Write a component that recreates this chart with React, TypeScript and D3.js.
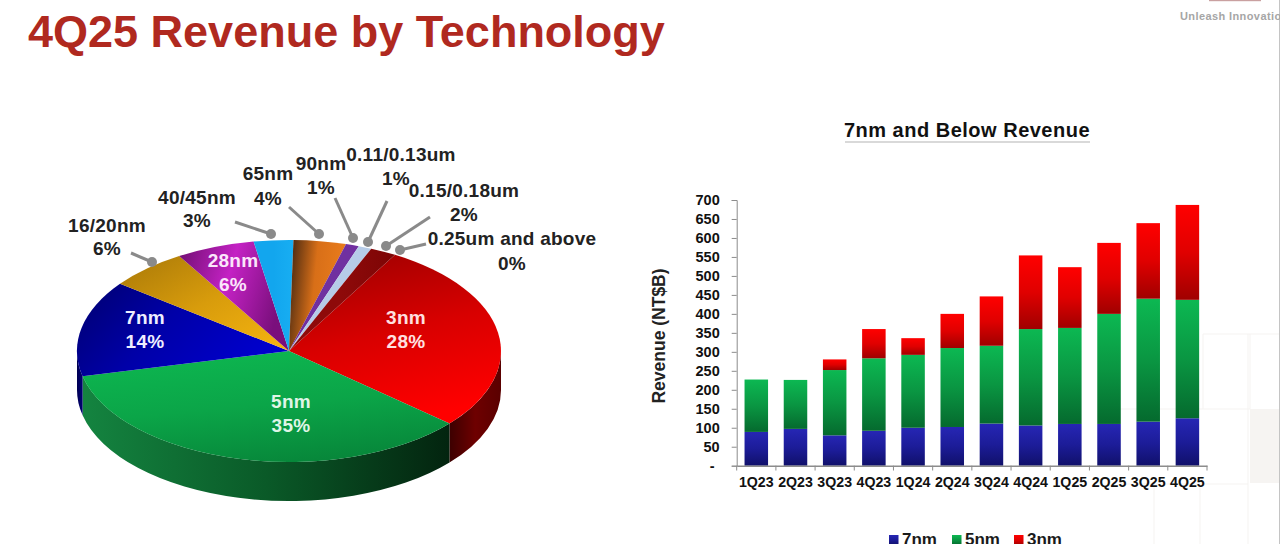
import React, { useEffect, useRef } from 'react';
import * as d3 from 'd3';

const techNames = ['3nm', '5nm', '7nm', '16/20nm', '28nm', '40/45nm', '65nm', '90nm', '0.11/0.13um', '0.15/0.18um', '0.25um and above'];
const techShares = [28, 35, 14, 6, 6, 3, 4, 1, 1, 2, 0];

const quarters = ['1Q23', '2Q23', '3Q23', '4Q23', '1Q24', '2Q24', '3Q24', '4Q24', '1Q25', '2Q25', '3Q25', '4Q25'];
const rev7nm = [89, 97, 80, 92, 100, 102, 111, 106, 110, 110, 116, 125];
const rev5nm = [138, 129, 172, 191, 192, 208, 205, 254, 253, 290, 324, 312];
const rev3nm = [0, 0, 28, 77, 44, 90, 130, 194, 160, 187, 199, 250];
const nodeKeys = ['7nm', '5nm', '3nm'];
const yTicks = d3.range(0, 701, 50);

const W = 1280;
const H = 544;

// slice paint, same order as techNames: direction + stops
const sliceFills: { dir: number[]; stops: string[] }[] = [
  { dir: [0.2, 0, 0.5, 1], stops: ['#a00000', '#d80000', '#ff0000'] },
  { dir: [0.3, 0, 0.6, 1], stops: ['#0db650', '#0ba548', '#07873a'] },
  { dir: [0, 0, 1, 0.4], stops: ['#00006e', '#0000a8', '#0000cc'] },
  { dir: [0, 0, 1, 1], stops: ['#a87808', '#d89c0c', '#f7b510'] },
  { dir: [0, 0, 1, 0.3], stops: ['#6e0e70', '#c422c4', '#7a0f7c'] },
  { dir: [0, 0, 1, 0], stops: ['#12a6ee', '#12a6ee', '#18aef2'] },
  { dir: [0, 0, 1, 0.2], stops: ['#3c2210', '#d86f18', '#ea7c1c'] },
  { dir: [0, 0, 1, 0], stops: ['#6f2ea0', '#7030a0', '#7030a0'] },
  { dir: [0, 0, 1, 0], stops: ['#b6cce8', '#b6cce8', '#b6cce8'] },
  { dir: [0, 0, 1, 0], stops: ['#8e0a0a', '#8e0a0a', '#7c0505'] },
  { dir: [0, 0, 1, 0], stops: ['#8e0a0a', '#8e0a0a', '#8e0a0a'] },
];

// wall paint for the slices that reach the front rim
const wallFills: Record<string, string[]> = {
  '3nm': ['#3c0000', '#6e0000', '#5a0000'],
  '5nm': ['#148440', '#0a5a28', '#03240f'],
  '7nm': ['#000050', '#000066', '#000070'],
};

// callouts: label centre, line from label to dot
const callouts = [
  { name: '16/20nm', pct: '6%', x: 107, y: 225, gap: 23, line: [131, 253, 152, 262] },
  { name: '40/45nm', pct: '3%', x: 197, y: 197, gap: 23, line: [235, 222, 271, 234] },
  { name: '65nm', pct: '4%', x: 268, y: 173, gap: 25, line: [289, 207, 319, 234] },
  { name: '90nm', pct: '1%', x: 321, y: 163, gap: 24, line: [335, 198, 353, 238] },
  { name: '0.11/0.13um', pct: '1%', x: 401, y: 154, gap: 24, pctX: 396, line: [387, 201, 368, 242] },
  { name: '0.15/0.18um', pct: '2%', x: 464, y: 190, gap: 24, line: [430, 217, 386, 246] },
  { name: '0.25um and above', pct: '0%', x: 512, y: 238, gap: 25, line: [426, 244, 400, 250] },
];
const insideLabels = [
  { name: '3nm', pct: '28%', x: 406, y: 317, color: '#ffe0e0' },
  { name: '5nm', pct: '35%', x: 291, y: 401, color: '#dff5e6' },
  { name: '7nm', pct: '14%', x: 145, y: 317, color: '#eeeeff' },
  { name: '28nm', pct: '6%', x: 233, y: 260, color: '#fbe6fb' },
];

const labelFont = '"Liberation Sans", Arial, sans-serif';

export default function App() {
  const svgRef = useRef<SVGSVGElement>(null);

  useEffect(() => {
    if (!svgRef.current) return;
    const svg = d3.select(svgRef.current);
    svg.selectAll('*').remove();
    svg.attr('font-family', labelFont).attr('font-weight', 700);

    const defs = svg.append('defs');
    const addGradient = (id: string, dir: number[], stops: string[]) => {
      const g = defs.append('linearGradient').attr('id', id)
        .attr('x1', dir[0]).attr('y1', dir[1]).attr('x2', dir[2]).attr('y2', dir[3]);
      stops.forEach((c, i) => {
        g.append('stop').attr('offset', i / (stops.length - 1)).attr('stop-color', c);
      });
    };

    // Background: faint leftovers of the slide template
    svg.append('rect').attr('width', W).attr('height', H).attr('fill', '#ffffff');
    svg.append('rect').attr('x', 1250).attr('y', 409).attr('width', 30).attr('height', 74).attr('fill', '#f6f4f2');
    [[1203, 334, 1280, 334], [1120, 409, 1250, 409], [1120, 484, 1248, 484], [1248, 334, 1248, 544],
      [1250, 334, 1250, 409], [1203, 334, 1203, 409], [1154, 484, 1154, 544], [1200, 484, 1200, 544]].forEach(l => {
      svg.append('line').attr('x1', l[0]).attr('y1', l[1]).attr('x2', l[2]).attr('y2', l[3])
        .attr('stroke', '#f5f3f1').attr('stroke-width', 1);
    });
    svg.append('line').attr('x1', 1279.5).attr('x2', 1279.5).attr('y1', 0).attr('y2', H)
      .attr('stroke', '#c4c4c4').attr('stroke-width', 1);

    // Header
    svg.append('text').attr('x', 28).attr('y', 46.5).attr('fill', '#b0291f')
      .attr('font-size', 45).text('4Q25 Revenue by Technology');
    svg.append('rect').attr('x', 1209).attr('y', 0).attr('width', 52).attr('height', 1.2).attr('fill', '#c9a0a0');
    svg.append('text').attr('x', 1180).attr('y', 20).attr('fill', '#a6a6a6')
      .attr('font-size', 11).attr('letter-spacing', 0.4).text('Unleash Innovation');

    // Pie
    const cx = 289;
    const cy = 351;
    const rx = 212;
    const ry = 111;
    const depth = 39;
    const rad = Math.PI / 180;
    const pieData = techNames.map((name, i) => ({ name, share: techShares[i] }));
    const arcs = d3.pie<{ name: string; share: number }>()
      .sort(null)
      .value(d => d.share)
      .startAngle(30 * rad)
      .endAngle(390 * rad)(pieData);

    const rim = (a: number, dy = 0) => [cx + rx * Math.sin(a), cy + dy - ry * Math.cos(a)];

    // Wall of the disc, only the front half shows
    arcs.forEach((a, i) => {
      const from = Math.max(a.startAngle, 90 * rad);
      const to = Math.min(a.endAngle, 270 * rad);
      if (to <= from) return;
      const id = `wall-${i}`;
      addGradient(id, [0, 0, 1, 0], wallFills[a.data.name]);
      const p0 = rim(from);
      const p1 = rim(to);
      const p2 = rim(to, depth);
      const p3 = rim(from, depth);
      svg.append('path')
        .attr('fill', `url(#${id})`)
        .attr('d', `M${p0}A${rx},${ry} 0 0 1 ${p1}L${p2}A${rx},${ry} 0 0 0 ${p3}Z`);
    });

    const arc = d3.arc<d3.PieArcDatum<{ name: string; share: number }>>().innerRadius(0).outerRadius(1);
    const face = svg.append('g').attr('transform', `translate(${cx},${cy}) scale(${rx},${ry})`);
    arcs.forEach((a, i) => {
      if (a.data.share === 0) return;
      const id = `slice-${i}`;
      addGradient(id, sliceFills[i].dir, sliceFills[i].stops);
      face.append('path').attr('d', arc(a)).attr('fill', `url(#${id})`);
    });

    // Callouts
    callouts.forEach(c => {
      svg.append('line')
        .attr('x1', c.line[0]).attr('y1', c.line[1]).attr('x2', c.line[2]).attr('y2', c.line[3])
        .attr('stroke', '#8a8a8a').attr('stroke-width', 3);
      svg.append('circle').attr('cx', c.line[2]).attr('cy', c.line[3]).attr('r', 5).attr('fill', '#8a8a8a');
      [c.name, c.pct].forEach((t, i) => {
        svg.append('text').attr('x', i === 1 ? c.pctX ?? c.x : c.x).attr('y', c.y + i * c.gap)
          .attr('dy', '0.35em').attr('text-anchor', 'middle').attr('letter-spacing', 0.25)
          .attr('fill', '#222222').attr('font-size', 19).text(t);
      });
    });
    insideLabels.forEach(l => {
      [l.name, l.pct].forEach((t, i) => {
        svg.append('text').attr('x', l.x).attr('y', l.y + i * 24).attr('dy', '0.35em').attr('text-anchor', 'middle')
          .attr('letter-spacing', 0.25).attr('fill', l.color).attr('font-size', 19).text(t);
      });
    });

    // Bar chart
    const x = d3.scaleBand<string>().domain(quarters).range([736.7, 1207]).paddingInner(0.4).paddingOuter(0.2);
    const y = d3.scaleLinear().domain([0, 700]).range([465.7, 200]);

    const rows = quarters.map((q, i) => ({ q, '7nm': rev7nm[i], '5nm': rev5nm[i], '3nm': rev3nm[i] }));
    const stacked = d3.stack<any>().keys(nodeKeys)(rows);

    addGradient('bar-7nm', [0, 0, 0, 1], ['#2626b4', '#1c1c98', '#10106a']);
    addGradient('bar-5nm', [0, 0, 0, 1], ['#0cb852', '#0a9642', '#056a2e']);
    addGradient('bar-3nm', [0, 0, 0, 1], ['#ff0000', '#e00000', '#a00000']);

    stacked.forEach(layer => {
      svg.append('g').selectAll('rect').data(layer).join('rect')
        .attr('x', d => x((d.data as any).q)!)
        .attr('y', d => y(d[1]))
        .attr('width', x.bandwidth())
        .attr('height', d => y(d[0]) - y(d[1]))
        .attr('fill', `url(#bar-${layer.key})`);
    });

    const yAxis = svg.append('g').attr('transform', 'translate(736.7,0)')
      .call(d3.axisLeft(y).tickValues(yTicks).tickSize(5).tickPadding(12).tickFormat(d => (d === 0 ? '-' : String(d))));
    yAxis.selectAll('path,line').attr('stroke', '#8c8c8c').attr('stroke-width', 1);
    yAxis.selectAll('text').attr('fill', '#111111').attr('font-size', 14.5).attr('font-family', labelFont);
    yAxis.selectAll<SVGTextElement, number>('text').filter(d => d === 0).attr('x', -22);

    const xAxis = svg.append('g').attr('transform', 'translate(0,465.7)')
      .call(d3.axisBottom(x).tickSize(0).tickPadding(11));
    xAxis.selectAll('.tick line').remove();
    xAxis.select('.domain').attr('stroke', '#8c8c8c').attr('stroke-width', 1.4);
    xAxis.selectAll('text').attr('fill', '#111111').attr('font-size', 14.2).attr('font-family', labelFont);
    // ticks sit on the band edges here, not the centres
    const edgeStep = x.step();
    svg.append('g').selectAll('line').data(d3.range(quarters.length + 1)).join('line')
      .attr('x1', d => 736.7 + d * edgeStep).attr('x2', d => 736.7 + d * edgeStep)
      .attr('y1', 465.7).attr('y2', 470.5)
      .attr('stroke', '#8c8c8c').attr('stroke-width', 1);

    svg.append('text')
      .attr('transform', 'translate(659,336) rotate(-90)').attr('dy', '0.35em')
      .attr('text-anchor', 'middle').attr('fill', '#222222').attr('font-size', 17.5).text('Revenue (NT$B)');

    svg.append('text').attr('x', 967).attr('y', 137).attr('text-anchor', 'middle').attr('letter-spacing', 0.5)
      .attr('fill', '#111111').attr('font-size', 20).text('7nm and Below Revenue');
    svg.append('line').attr('x1', 845).attr('x2', 1090).attr('y1', 142).attr('y2', 142)
      .attr('stroke', '#b4b4b4').attr('stroke-width', 1.2);

    // Legend, runs off the bottom of the frame
    const legendX = [889, 952, 1014];
    nodeKeys.forEach((k, i) => {
      svg.append('rect').attr('x', legendX[i]).attr('y', 535).attr('width', 9.5).attr('height', 10)
        .attr('fill', `url(#bar-${k})`);
      svg.append('text').attr('x', legendX[i] + 13).attr('y', 545).attr('fill', '#1a1a1a')
        .attr('font-size', 17).text(k);
    });
  }, []);

  return <svg ref={svgRef} width={W} height={H} style={{ position: 'absolute', left: 0, top: 0 }} />;
}
